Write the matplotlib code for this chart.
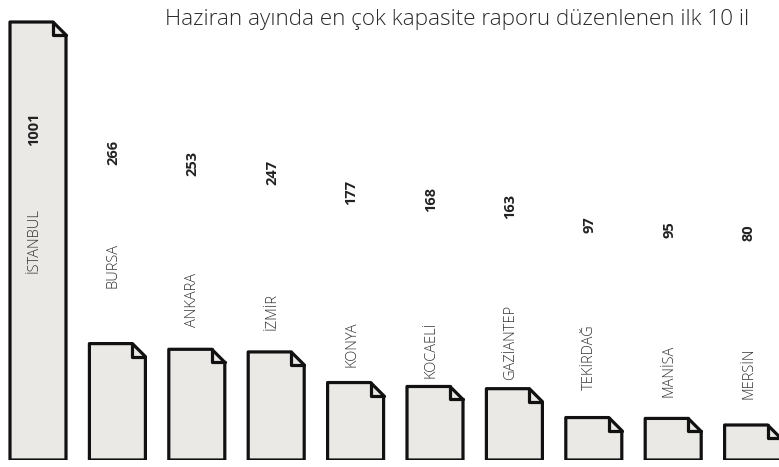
import matplotlib
matplotlib.use("Agg")
import matplotlib.pyplot as plt
from matplotlib.patches import Polygon
from matplotlib.lines import Line2D

plt.rcParams['font.family'] = ['Open Sans', 'DejaVu Sans']

# ---- data ----
cities = ["İSTANBUL", "BURSA", "ANKARA", "İZMİR", "KONYA", "KOCAELİ",
          "GAZİANTEP", "TEKİRDAĞ", "MANİSA", "MERSİN"]
values = [1001, 266, 253, 247, 177, 168, 163, 97, 95, 80]
title = "Haziran ayında en çok kapasite raporu düzenlenen ilk 10 il"

# ---- layout (pixels) ----
W, H, DPI = 779, 467, 100
base_px = 460          # baseline y pixel (from top)
top_px = 22            # top of largest bar
pitch_px = 79.4
first_center_px = 38
bar_w_px = 56
fold_px = 13
# label positions (pixel rows from top)
name_bottom_px = [273, 288, 327, 330, 367, 378, 380, 390, 397, 399]
value_center_px = [129, 152, 163, 172, 192, 199, 206, 225, 230, 233]
label_dx_px = -4

fig = plt.figure(figsize=(W / DPI, H / DPI), dpi=DPI)
ax = fig.add_axes([0, (H - base_px) / H, 1, base_px / H])
ax.set_axis_off()

vmax = max(values)
px_per_unit = (base_px - top_px) / vmax
ax.set_ylim(0, base_px / px_per_unit)
ax.set_xlim(-first_center_px / pitch_px, (W - first_center_px) / pitch_px)

def py_to_data(py):
    return (base_px - py) / px_per_unit

bw = bar_w_px / pitch_px
fx = fold_px / pitch_px
fy = fold_px / px_per_unit
fill = "#EAE9E6"
edge = "#111111"
lw = 2.3

for i, (c, v) in enumerate(zip(cities, values)):
    x0, x1 = i - bw / 2, i + bw / 2
    poly = Polygon([(x0, 0), (x0, v), (x1 - fx, v), (x1, v - fy), (x1, 0)],
                   closed=True, facecolor=fill, edgecolor=edge, lw=lw,
                   joinstyle="round", clip_on=True)
    ax.add_patch(poly)
    ax.add_line(Line2D([x1 - fx, x1 - fx, x1], [v, v - fy, v - fy], color=edge,
                       lw=lw, solid_joinstyle="round", solid_capstyle="round"))
    dx = label_dx_px / pitch_px
    ax.text(i + dx, py_to_data(name_bottom_px[i]), c, rotation=90,
            ha="center", va="bottom", fontsize=10.5, color="#333333",
            fontweight="light")
    ax.text(i + dx, py_to_data(value_center_px[i]), str(v), rotation=90,
            ha="center", va="center", fontsize=10.5, color="#222222",
            fontweight="bold")

fig.text(457 / W, 1 - 19 / H, title, ha="center", va="center",
         fontsize=16.2, color="#2a2a2a", fontweight="light")

fig.savefig("out.png", dpi=DPI)
